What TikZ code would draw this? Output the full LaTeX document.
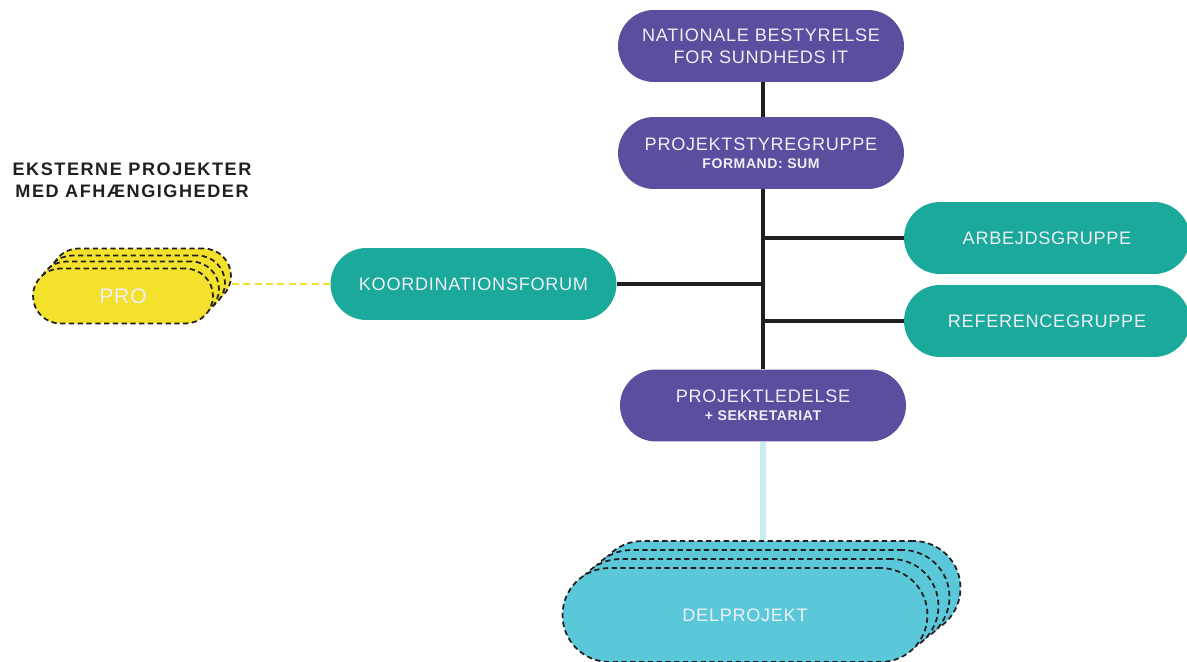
\documentclass[tikz,border=0pt]{standalone}
\usepackage{fontspec}
\setmainfont[LetterSpace=4]{Liberation Sans}
\newfontfamily\headfont[LetterSpace=8.5]{Liberation Sans}
\usetikzlibrary{positioning}

\definecolor{boardpurple}{HTML}{5C4D9F}
\definecolor{forumteal}{HTML}{1AA99B}
\definecolor{proyellow}{HTML}{F4E12B}
\definecolor{delblue}{HTML}{5BC8D9}
\definecolor{paleblue}{HTML}{C7ECF2}
\definecolor{linkblack}{HTML}{231F20}
\definecolor{nodetext}{HTML}{EFEFF7}

\tikzset{
  board/.style={fill=boardpurple, text=nodetext, rounded corners=0.72cm,
    minimum width=5.72cm, minimum height=1.44cm, align=center, inner sep=0pt,
    font=\fontsize{10.3}{12.5}\selectfont},
  forum/.style={board, fill=forumteal},
  pile/.style={draw=linkblack, dash pattern=on 3pt off 2pt, line width=1pt,
    text=nodetext, inner sep=0pt},
  pro/.style={pile, fill=proyellow, rounded corners=0.55cm,
    minimum width=3.6cm, minimum height=1.1cm, font=\fontsize{12}{14}\selectfont},
  del/.style={pile, fill=delblue, rounded corners=0.94cm,
    minimum width=7.3cm, minimum height=1.88cm, font=\fontsize{10.3}{12.5}\selectfont},
  link/.style={draw=linkblack, line width=2.8pt},
  sub/.style={font=\fontsize{8}{10}\selectfont\bfseries}
}

\begin{document}
\begin{tikzpicture}[x=0.02cm, y=-0.02cm]
  \useasboundingbox (0,0) rectangle (1187,662);

  % styregrupper
  \node[board] (nat) at (761,46) {NATIONALE BESTYRELSE\\FOR SUNDHEDS IT};
  \node[board] (styre) at (761,153) {PROJEKTSTYREGRUPPE\\[-2pt]{\bfseries\fontsize{8}{10}\selectfont FORMAND: SUM}};
  \node[board] (ledelse) at (763,405.5) {PROJEKTLEDELSE\\[-2pt]{\bfseries\fontsize{8}{10}\selectfont + SEKRETARIAT}};

  \node[forum] (arbejd) at (1047,238) {ARBEJDSGRUPPE};
  \node[forum] (reference) at (1047,321) {REFERENCEGRUPPE};
  \node[forum] (koord) at (473.5,284) {KOORDINATIONSFORUM};

  % eksterne projekter
  \node[font=\headfont\fontsize{10.3}{12.5}\selectfont\bfseries, text=linkblack, align=center]
    (ext) at (132,180) {EKSTERNE PROJEKTER\\MED AFHÆNGIGHEDER};
  \node[pro] (pro3) at (141,276) {};
  \node[pro] (pro2) at (135,283) {};
  \node[pro] (pro1) at (129,289) {};
  \node[pro] (pro) at (123,296) {PRO};

  % delprojekter
  \node[del] (del3) at (778,588) {};
  \node[del] (del2) at (767,597) {};
  \node[del] (del1) at (756,606) {};
  \node[del] (del) at (745,615) {DELPROJEKT};

  \coordinate (stem) at (763,0);
  \draw[link] (nat.south -| stem) -- (styre.north -| stem);
  \draw[link] (styre.south -| stem) -- (ledelse.north -| stem);
  \draw[link] (arbejd.west) -- (arbejd.west -| stem);
  \draw[link] (reference.west) -- (reference.west -| stem);
  \draw[link] (koord.east) -- (koord.east -| stem);
  \coordinate (ledfoot) at (ledelse.south -| stem);
  \draw[paleblue, line width=3.4pt] (ledfoot) -- (ledfoot |- del3.north);
  \draw[proyellow, line width=0.9pt, dash pattern=on 4pt off 2.5pt] (koord.west) -- (koord.west -| pro3.east);
\end{tikzpicture}
\end{document}
